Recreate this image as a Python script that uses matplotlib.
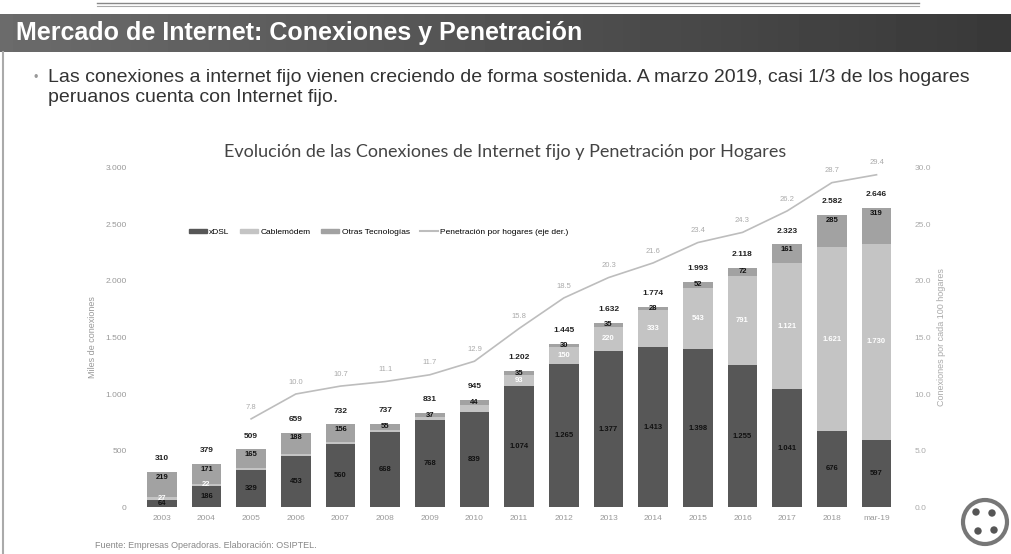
import numpy as np
import matplotlib.pyplot as plt
from matplotlib.patches import Patch, Circle
from matplotlib.lines import Line2D

# datos (miles de conexiones)
years = ["2003", "2004", "2005", "2006", "2007", "2008", "2009", "2010", "2011",
         "2012", "2013", "2014", "2015", "2016", "2017", "2018", "mar-19"]
xdsl = [64, 186, 329, 453, 560, 668, 768, 839, 1074, 1265, 1377, 1413, 1398, 1255, 1041, 676, 597]
cable = [27, 22, 15, 18, 16, 14, 26, 62, 93, 150, 220, 333, 543, 791, 1121, 1621, 1730]
otras = [219, 171, 165, 188, 156, 55, 37, 44, 35, 30, 35, 28, 52, 72, 161, 285, 319]
penetracion = [np.nan, np.nan, 7.8, 10.0, 10.7, 11.1, 11.7, 12.9, 15.8, 18.5, 20.3,
               21.6, 23.4, 24.3, 26.2, 28.7, 29.4]

left_ticks = [0, 500, 1000, 1500, 2000, 2500, 3000]
right_ticks = [0, 5, 10, 15, 20, 25, 30]

c_xdsl = "#575757"
c_cable = "#c4c4c4"
c_otras = "#a2a2a2"
c_pen = "#bdbdbd"

def miles(v):
    return f"{v:,}".replace(",", ".")

plt.rcParams['font.family'] = ['Liberation Sans', 'DejaVu Sans']

fig = plt.figure(figsize=(10.11, 5.54), dpi=100)

# fondo de la diapositiva
bg = fig.add_axes([0, 0, 1, 1])
bg.set_xlim(0, 1011)
bg.set_ylim(554, 0)
bg.axis("off")
grad = np.linspace(0.42, 0.22, 300).reshape(1, -1)
bg.imshow(grad, cmap="gray", vmin=0, vmax=1, extent=[0, 1011, 52, 14], aspect="auto")
bg.text(16, 33, "Mercado de Internet: Conexiones y Penetración", color="white",
        fontsize=18, fontweight="bold", va="center", ha="left")
bg.plot([97, 919], [3, 3], color="#888888", lw=1)
bg.plot([97, 919], [6, 6], color="#aaaaaa", lw=0.8)
bg.plot([3, 3], [52, 554], color="#aaaaaa", lw=1.5)
bg.text(34, 78, "•", color="#999999", fontsize=9, va="center")
bg.text(48, 78, "Las conexiones a internet fijo vienen creciendo de forma sostenida. "
        "A marzo 2019, casi 1/3 de los hogares", color="#333333", fontsize=14, va="center")
bg.text(48, 98, "peruanos cuenta con Internet fijo.", color="#333333", fontsize=14, va="center")
bg.text(505, 152, "Evolución de las Conexiones de Internet fijo y Penetración por Hogares",
        color="#444444", fontsize=13, ha="center", va="center", family="Lato")
bg.text(95, 545, "Fuente: Empresas Operadoras. Elaboración: OSIPTEL.", color="#888888",
        fontsize=6.5, va="center")
bg.add_patch(Circle((985, 522), 22, fill=False, ec="#777777", lw=3))
for (px, py) in [(976, 512), (992, 513), (978, 531), (994, 530)]:
    bg.add_patch(Circle((px, py), 3, color="#555555"))

# grafico
ax = fig.add_axes([0.1335, 0.0848, 0.760, 0.612])
x = np.arange(len(years))
w = 0.66
xdsl_a = np.array(xdsl)
cable_a = np.array(cable)
otras_a = np.array(otras)
ax.bar(x, xdsl_a, w, color=c_xdsl)
ax.bar(x, cable_a, w, bottom=xdsl_a, color=c_cable)
ax.bar(x, otras_a, w, bottom=xdsl_a + cable_a, color=c_otras)
total = xdsl_a + cable_a + otras_a

for i in range(len(years)):
    ax.text(x[i], xdsl_a[i] / 2, miles(xdsl[i]), ha="center", va="center",
            fontsize=5.5, fontweight="bold", color="#111111")
    y_otras = total[i] - min(otras_a[i] / 2, 45)
    y_cable = xdsl_a[i] + cable_a[i] / 2
    if cable[i] >= 20 and y_otras - y_cable > 60:
        ax.text(x[i], y_cable, miles(cable[i]), ha="center", va="center",
                fontsize=5.5, fontweight="bold", color="white")
    if otras[i] >= 20:
        ax.text(x[i], y_otras, miles(otras[i]), ha="center",
                va="center", fontsize=5.5, fontweight="bold", color="#111111")
    ax.annotate(miles(int(total[i])), (x[i], total[i]), xytext=(0, 7),
                textcoords="offset points", ha="center", va="bottom",
                fontsize=6, fontweight="bold", color="#222222")

ax.set_xlim(-0.6, len(years) - 0.4)
ax.set_ylim(0, 3000)
ax.set_yticks(left_ticks)
ax.set_yticklabels([miles(t) for t in left_ticks])
ax.set_xticks(x)
ax.set_xticklabels(years)
ax.tick_params(length=0, labelsize=6, colors="#999999", pad=6)
for s in ax.spines.values():
    s.set_visible(False)
ax.set_ylabel("Miles de conexiones", fontsize=6.5, color="#999999", labelpad=6)

ax2 = ax.twinx()
ax2.plot(x, penetracion, color=c_pen, lw=1.2)
for i in range(len(years)):
    if not np.isnan(penetracion[i]):
        ax2.annotate(f"{penetracion[i]:.1f}", (x[i], penetracion[i]), xytext=(0, 6),
                     textcoords="offset points", ha="center", va="bottom",
                     fontsize=5.5, color="#aaaaaa")
ax2.set_ylim(0, 30)
ax2.set_yticks(right_ticks)
ax2.set_yticklabels([f"{t:.1f}" for t in right_ticks])
ax2.tick_params(length=0, labelsize=6, colors="#aaaaaa", pad=8)
for s in ax2.spines.values():
    s.set_visible(False)
ax2.set_ylabel("Conexiones por cada 100 hogares", fontsize=6.5, color="#aaaaaa", labelpad=4)

handles = [Patch(color=c_xdsl), Patch(color=c_cable), Patch(color=c_otras),
           Line2D([0], [0], color=c_pen, lw=1.5)]
labels = ["xDSL", "Cablemódem", "Otras Tecnologías", "Penetración por hogares (eje der.)"]
ax.legend(handles, labels, loc="center left", bbox_to_anchor=(0.06, 0.81), ncol=4,
          frameon=False, fontsize=6, handlelength=2.2, handleheight=0.5,
          handletextpad=0.3, columnspacing=1.2)

fig.savefig("out.png", dpi=100)
